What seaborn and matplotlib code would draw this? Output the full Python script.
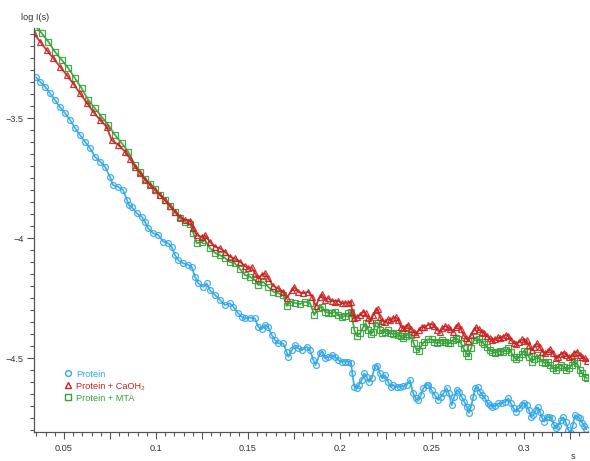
import matplotlib
matplotlib.use("Agg")
import matplotlib.pyplot as plt
import seaborn as sns
import pandas as pd
from matplotlib.ticker import MultipleLocator, FuncFormatter
from matplotlib.lines import Line2D

sns.set_style("white")
plt.rcParams['font.family'] = ['Liberation Sans', 'DejaVu Sans']

# ---- data (s, log I(s)) ----
protein_s = [0.0348, 0.0370, 0.0397, 0.0424, 0.0451, 0.0478, 0.0505, 0.0533, 0.0560, 0.0587,
             0.0614, 0.0641, 0.0668, 0.0696, 0.0723, 0.0750, 0.0766, 0.0793, 0.0821, 0.0842,
             0.0853, 0.0868, 0.0895, 0.0922, 0.0940, 0.0958, 0.0985, 0.1013, 0.1040, 0.1067,
             0.1085, 0.1103, 0.1121, 0.1148, 0.1176, 0.1194, 0.1212, 0.1230, 0.1257, 0.1276,
             0.1293, 0.1321, 0.1348, 0.1375, 0.1402, 0.1420, 0.1447, 0.1466, 0.1484, 0.1511,
             0.1538, 0.1556, 0.1574, 0.1592, 0.1610, 0.1629, 0.1647, 0.1665, 0.1692, 0.1710,
             0.1719, 0.1738, 0.1755, 0.1773, 0.1792, 0.1819, 0.1837, 0.1855, 0.1868, 0.1891,
             0.1904, 0.1918, 0.1936, 0.1955, 0.1973, 0.1991, 0.2009, 0.2027, 0.2045, 0.2060,
             0.2067, 0.2078, 0.2091, 0.2103, 0.2118, 0.2132, 0.2145, 0.2158, 0.2172, 0.2190,
             0.2203, 0.2217, 0.2230, 0.2245, 0.2262, 0.2276, 0.2290, 0.2308, 0.2326, 0.2344,
             0.2363, 0.2380, 0.2398, 0.2411, 0.2426, 0.2440, 0.2453, 0.2471, 0.2480, 0.2498,
             0.2516, 0.2534, 0.2549, 0.2561, 0.2580, 0.2592, 0.2607, 0.2621, 0.2634, 0.2647,
             0.2661, 0.2676, 0.2689, 0.2701, 0.2712, 0.2725, 0.2734, 0.2748, 0.2761, 0.2773,
             0.2788, 0.2803, 0.2815, 0.2828, 0.2842, 0.2860, 0.2879, 0.2897, 0.2915, 0.2929,
             0.2944, 0.2958, 0.2973, 0.2987, 0.3001, 0.3014, 0.3027, 0.3038, 0.3051, 0.3064,
             0.3074, 0.3087, 0.3100, 0.3110, 0.3123, 0.3136, 0.3150, 0.3163, 0.3175, 0.3186,
             0.3201, 0.3214, 0.3226, 0.3241, 0.3254, 0.3266, 0.3277, 0.3292, 0.3304, 0.3317,
             0.3328, 0.3339]
protein_y = [-3.330, -3.349, -3.370, -3.397, -3.425, -3.455, -3.479, -3.508, -3.542, -3.571,
             -3.599, -3.625, -3.661, -3.682, -3.703, -3.745, -3.779, -3.786, -3.800, -3.842,
             -3.863, -3.870, -3.897, -3.911, -3.932, -3.960, -3.980, -3.988, -4.015, -4.022,
             -4.036, -4.071, -4.092, -4.105, -4.112, -4.120, -4.161, -4.189, -4.203, -4.189,
             -4.217, -4.237, -4.258, -4.279, -4.272, -4.286, -4.314, -4.328, -4.335, -4.332,
             -4.335, -4.370, -4.380, -4.362, -4.370, -4.404, -4.425, -4.439, -4.439, -4.474,
             -4.495, -4.467, -4.446, -4.460, -4.467, -4.453, -4.467, -4.508, -4.529, -4.480,
             -4.474, -4.501, -4.495, -4.487, -4.495, -4.508, -4.515, -4.515, -4.515, -4.522,
             -4.564, -4.620, -4.626, -4.612, -4.592, -4.564, -4.578, -4.599, -4.585, -4.536,
             -4.533, -4.564, -4.585, -4.571, -4.599, -4.620, -4.612, -4.620, -4.620, -4.617,
             -4.612, -4.592, -4.647, -4.668, -4.675, -4.654, -4.626, -4.612, -4.612, -4.635,
             -4.654, -4.675, -4.661, -4.647, -4.626, -4.647, -4.696, -4.661, -4.633, -4.640,
             -4.661, -4.682, -4.703, -4.728, -4.703, -4.661, -4.626, -4.622, -4.640, -4.654,
             -4.668, -4.689, -4.696, -4.703, -4.700, -4.689, -4.689, -4.682, -4.668, -4.689,
             -4.710, -4.724, -4.710, -4.696, -4.686, -4.696, -4.717, -4.745, -4.738, -4.717,
             -4.705, -4.724, -4.751, -4.765, -4.747, -4.745, -4.751, -4.779, -4.793, -4.783,
             -4.758, -4.747, -4.765, -4.800, -4.811, -4.779, -4.738, -4.745, -4.751, -4.770,
             -4.783, -4.797]

caoh_s = [0.0337, 0.0370, 0.0406, 0.0442, 0.0478, 0.0515, 0.0551, 0.0587, 0.0623, 0.0659,
          0.0696, 0.0732, 0.0759, 0.0795, 0.0832, 0.0859, 0.0886, 0.0913, 0.0940, 0.0967,
          0.0995, 0.1022, 0.1049, 0.1076, 0.1103, 0.1130, 0.1158, 0.1185, 0.1203, 0.1221,
          0.1248, 0.1266, 0.1293, 0.1321, 0.1348, 0.1375, 0.1402, 0.1429, 0.1457, 0.1484,
          0.1502, 0.1520, 0.1538, 0.1556, 0.1574, 0.1592, 0.1610, 0.1638, 0.1665, 0.1692,
          0.1710, 0.1738, 0.1752, 0.1773, 0.1801, 0.1828, 0.1849, 0.1868, 0.1891, 0.1904,
          0.1918, 0.1936, 0.1955, 0.1973, 0.1991, 0.2009, 0.2027, 0.2045, 0.2060, 0.2067,
          0.2078, 0.2091, 0.2109, 0.2127, 0.2140, 0.2154, 0.2168, 0.2181, 0.2194, 0.2205,
          0.2217, 0.2230, 0.2245, 0.2259, 0.2273, 0.2288, 0.2303, 0.2317, 0.2332, 0.2344,
          0.2357, 0.2371, 0.2386, 0.2401, 0.2415, 0.2429, 0.2444, 0.2458, 0.2477, 0.2498,
          0.2513, 0.2527, 0.2542, 0.2556, 0.2571, 0.2585, 0.2600, 0.2614, 0.2629, 0.2643,
          0.2658, 0.2672, 0.2687, 0.2697, 0.2712, 0.2727, 0.2741, 0.2755, 0.2770, 0.2784,
          0.2799, 0.2814, 0.2828, 0.2842, 0.2857, 0.2871, 0.2886, 0.2900, 0.2915, 0.2929,
          0.2944, 0.2958, 0.2973, 0.2987, 0.3001, 0.3014, 0.3027, 0.3042, 0.3056, 0.3071,
          0.3085, 0.3100, 0.3114, 0.3129, 0.3143, 0.3158, 0.3172, 0.3187, 0.3201, 0.3216,
          0.3230, 0.3245, 0.3259, 0.3273, 0.3288, 0.3303, 0.3317, 0.3332, 0.3342]
caoh_y = [-3.147, -3.182, -3.217, -3.251, -3.286, -3.321, -3.358, -3.397, -3.436, -3.474,
          -3.508, -3.536, -3.592, -3.612, -3.640, -3.670, -3.703, -3.730, -3.758, -3.779,
          -3.800, -3.821, -3.842, -3.867, -3.890, -3.911, -3.925, -3.928, -3.960, -3.988,
          -3.995, -3.988, -4.015, -4.036, -4.043, -4.057, -4.078, -4.085, -4.099, -4.117,
          -4.126, -4.122, -4.147, -4.168, -4.154, -4.147, -4.168, -4.200, -4.210, -4.224,
          -4.251, -4.217, -4.205, -4.224, -4.230, -4.224, -4.245, -4.283, -4.245, -4.235,
          -4.258, -4.251, -4.261, -4.265, -4.261, -4.272, -4.270, -4.270, -4.265, -4.307,
          -4.335, -4.330, -4.321, -4.307, -4.314, -4.335, -4.342, -4.321, -4.300, -4.297,
          -4.330, -4.345, -4.349, -4.339, -4.342, -4.335, -4.330, -4.342, -4.370, -4.376,
          -4.370, -4.362, -4.380, -4.390, -4.400, -4.383, -4.370, -4.372, -4.362, -4.358,
          -4.367, -4.383, -4.390, -4.376, -4.367, -4.370, -4.380, -4.390, -4.370, -4.362,
          -4.380, -4.404, -4.418, -4.428, -4.404, -4.383, -4.372, -4.380, -4.390, -4.397,
          -4.408, -4.418, -4.425, -4.422, -4.414, -4.418, -4.411, -4.404, -4.408, -4.425,
          -4.436, -4.442, -4.432, -4.422, -4.428, -4.425, -4.446, -4.467, -4.453, -4.439,
          -4.453, -4.474, -4.480, -4.470, -4.464, -4.480, -4.501, -4.495, -4.483, -4.478,
          -4.487, -4.497, -4.492, -4.478, -4.474, -4.487, -4.497, -4.501, -4.511]

mta_s = [0.0348, 0.0379, 0.0415, 0.0451, 0.0488, 0.0524, 0.0560, 0.0596, 0.0632, 0.0668,
         0.0705, 0.0741, 0.0777, 0.0814, 0.0849, 0.0886, 0.0913, 0.0940, 0.0967, 0.0995,
         0.1022, 0.1049, 0.1076, 0.1103, 0.1130, 0.1158, 0.1185, 0.1203, 0.1221, 0.1248,
         0.1266, 0.1293, 0.1321, 0.1348, 0.1375, 0.1402, 0.1429, 0.1457, 0.1484, 0.1511,
         0.1538, 0.1556, 0.1583, 0.1610, 0.1638, 0.1665, 0.1692, 0.1710, 0.1728, 0.1755,
         0.1783, 0.1810, 0.1837, 0.1860, 0.1882, 0.1904, 0.1918, 0.1936, 0.1955, 0.1973,
         0.1991, 0.2009, 0.2027, 0.2045, 0.2060, 0.2067, 0.2078, 0.2091, 0.2109, 0.2127,
         0.2140, 0.2154, 0.2168, 0.2181, 0.2194, 0.2205, 0.2217, 0.2230, 0.2245, 0.2259,
         0.2273, 0.2288, 0.2303, 0.2317, 0.2332, 0.2344, 0.2357, 0.2371, 0.2386, 0.2401,
         0.2415, 0.2429, 0.2444, 0.2458, 0.2477, 0.2498, 0.2513, 0.2527, 0.2542, 0.2556,
         0.2571, 0.2585, 0.2600, 0.2614, 0.2629, 0.2643, 0.2658, 0.2672, 0.2687, 0.2697,
         0.2712, 0.2727, 0.2741, 0.2755, 0.2770, 0.2784, 0.2799, 0.2814, 0.2828, 0.2842,
         0.2857, 0.2871, 0.2886, 0.2900, 0.2915, 0.2929, 0.2944, 0.2958, 0.2973, 0.2987,
         0.3001, 0.3014, 0.3027, 0.3042, 0.3056, 0.3071, 0.3085, 0.3100, 0.3114, 0.3129,
         0.3143, 0.3158, 0.3172, 0.3187, 0.3201, 0.3216, 0.3230, 0.3245, 0.3259, 0.3273,
         0.3288, 0.3303, 0.3317, 0.3332, 0.3342]
mta_y = [-3.120, -3.147, -3.182, -3.224, -3.258, -3.293, -3.335, -3.376, -3.425, -3.460,
         -3.495, -3.529, -3.571, -3.605, -3.640, -3.696, -3.725, -3.752, -3.775, -3.796,
         -3.821, -3.842, -3.867, -3.892, -3.917, -3.933, -3.942, -3.979, -4.021, -4.017,
         -4.008, -4.042, -4.062, -4.071, -4.083, -4.100, -4.105, -4.130, -4.154, -4.161,
         -4.175, -4.196, -4.182, -4.203, -4.224, -4.230, -4.237, -4.283, -4.265, -4.270,
         -4.275, -4.265, -4.270, -4.321, -4.293, -4.286, -4.307, -4.311, -4.314, -4.307,
         -4.321, -4.330, -4.325, -4.314, -4.307, -4.335, -4.383, -4.408, -4.397, -4.370,
         -4.355, -4.383, -4.400, -4.390, -4.355, -4.353, -4.383, -4.397, -4.390, -4.383,
         -4.397, -4.400, -4.397, -4.404, -4.408, -4.418, -4.408, -4.400, -4.404, -4.439,
         -4.464, -4.470, -4.446, -4.432, -4.422, -4.422, -4.432, -4.439, -4.432, -4.425,
         -4.432, -4.439, -4.436, -4.425, -4.418, -4.422, -4.439, -4.460, -4.480, -4.492,
         -4.460, -4.425, -4.414, -4.422, -4.432, -4.442, -4.453, -4.467, -4.474, -4.478,
         -4.474, -4.470, -4.474, -4.467, -4.460, -4.474, -4.495, -4.505, -4.497, -4.483,
         -4.470, -4.474, -4.495, -4.515, -4.505, -4.487, -4.501, -4.515, -4.522, -4.515,
         -4.529, -4.543, -4.550, -4.536, -4.529, -4.536, -4.550, -4.543, -4.529, -4.511,
         -4.522, -4.550, -4.564, -4.578, -4.585]

labels = ["Protein", "Protein + CaOH\u2082", "Protein + MTA"]
colors = ["#2ea6e6", "#cc2020", "#36a03a"]
markers = ["o", "^", "s"]

FS = 6.6
W, H = 590, 461
fig = plt.figure(figsize=(W / 100, H / 100), dpi=100)
ax = fig.add_axes([34 / W, (H - 432) / H, (588 - 34) / W, (432 - 28) / H])

series = [(protein_s, protein_y), (caoh_s, caoh_y), (mta_s, mta_y)]
order = [0, 2, 1]
for i in order:
    s, y = series[i]
    df = pd.DataFrame({"s": s, "y": y})
    sns.lineplot(data=df, x="s", y="y", ax=ax, sort=False, color=colors[i],
                 lw=1.3, marker=markers[i], markersize=4.2, markerfacecolor="none",
                 markeredgecolor=colors[i], markeredgewidth=0.9, alpha=0.9)

ax.set_xlim(0.0337, 0.3348)
ax.set_ylim(-4.808, -3.125)
ax.set_xlabel("")
ax.set_ylabel("")

for sp in ["top", "right"]:
    ax.spines[sp].set_visible(False)
for sp in ["left", "bottom"]:
    ax.spines[sp].set_color("#555555")
    ax.spines[sp].set_linewidth(0.9)

ax.xaxis.set_major_locator(MultipleLocator(0.025))
ax.xaxis.set_minor_locator(MultipleLocator(0.005))
ax.xaxis.set_major_formatter(FuncFormatter(
    lambda v, p: ("%g" % round(v, 3)) if abs(round(v / 0.05) * 0.05 - v) < 1e-6 else ""))
ax.yaxis.set_major_locator(MultipleLocator(0.5))
ax.yaxis.set_minor_locator(MultipleLocator(0.05))
ax.yaxis.set_major_formatter(FuncFormatter(lambda v, p: ("%g" % v).replace("-", "\u2212")))

ax.tick_params(axis="both", which="major", direction="out", length=5, width=0.8,
               color="#555555", labelsize=FS, labelcolor="#333333",
               bottom=True, left=True)
ax.tick_params(axis="x", which="major", pad=3.5)
ax.tick_params(axis="y", which="major", pad=2.5)
ax.tick_params(axis="both", which="minor", direction="out", length=3, width=0.8,
               color="#555555", bottom=True, left=True)

fig.text(21 / W, 1 - 17 / H, "log I(s)", fontsize=FS, color="#333333", va="center", ha="left")
fig.text(573 / W, 1 - 452 / H, "s", fontsize=FS, color="#333333", va="top", ha="center")

handles = [Line2D([], [], linestyle="none", marker=markers[i], markersize=4.2,
                  markerfacecolor="none", markeredgecolor=colors[i], markeredgewidth=1.0)
           for i in range(3)]
leg = ax.legend(handles, labels, loc="upper left", bbox_to_anchor=(58.5 / W, 1 - 365 / H),
                bbox_transform=fig.transFigure, frameon=False, fontsize=FS,
                handlelength=1.0, handletextpad=0.45, labelspacing=0.33, borderpad=0)
for t, c in zip(leg.get_texts(), colors):
    t.set_color(c)

fig.savefig("out.png", dpi=100)
